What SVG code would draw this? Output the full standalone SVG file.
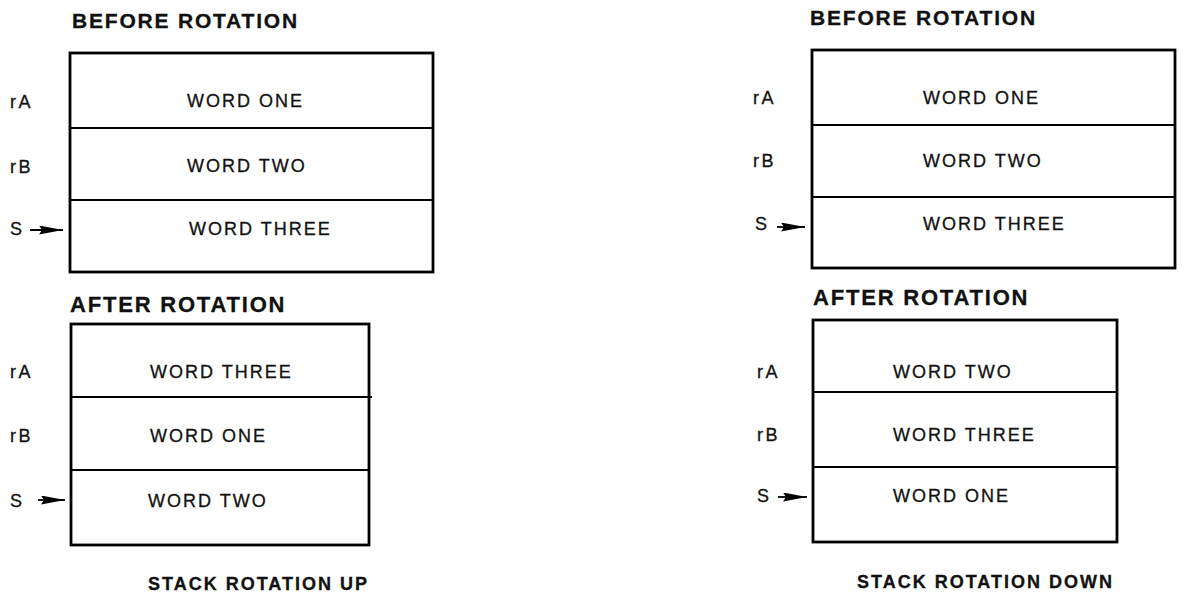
<svg xmlns="http://www.w3.org/2000/svg" width="1184" height="595" viewBox="0 0 1184 595">
<style>
.box{fill:none;stroke:#000;stroke-width:2.8}
.div{stroke:#000;stroke-width:2}
text{font-family:"Liberation Sans",Arial,sans-serif;fill:#111;stroke:#111;stroke-width:0.3}
.title{font-weight:bold;font-size:21px;letter-spacing:1.8px}
.title2{font-weight:bold;font-size:22px;letter-spacing:1.8px}
.cap{font-weight:bold;font-size:18px;letter-spacing:2px}
.word{font-size:18px;letter-spacing:2px}
.lbl{font-size:18px;letter-spacing:2.5px}
.ptr{stroke:#000;stroke-width:1.8;fill:none;marker-end:url(#head)}
</style>
<defs>
<marker id="head" markerUnits="userSpaceOnUse" markerWidth="26" markerHeight="10" refX="24" refY="4.5" orient="auto">
<path d="M0,0 L24,4.5 L0,9 L3,4.5 Z" fill="#000"/>
</marker>
</defs>

<g id="stack-up-before">
<text class="title" x="72" y="28">BEFORE ROTATION</text>
<rect class="box" x="70" y="53" width="363" height="219"/>
<line class="div" x1="70" y1="128" x2="433" y2="128"/>
<line class="div" x1="70" y1="200" x2="433" y2="200"/>
<text class="lbl" x="10" y="108">rA</text>
<text class="lbl" x="10" y="173">rB</text>
<text class="lbl" x="10" y="235">S</text>
<text class="word" x="187" y="107">WORD ONE</text>
<text class="word" x="187" y="172">WORD TWO</text>
<text class="word" x="189" y="235">WORD THREE</text>
</g>

<g id="stack-up-after">
<text class="title2" x="70" y="312">AFTER ROTATION</text>
<rect class="box" x="71" y="324" width="298" height="221"/>
<line class="div" x1="71" y1="397" x2="372" y2="397"/>
<line class="div" x1="71" y1="470" x2="369" y2="470"/>
<text class="lbl" x="10" y="378">rA</text>
<text class="lbl" x="10" y="442">rB</text>
<text class="lbl" x="10" y="507">S</text>
<text class="word" x="150" y="378">WORD THREE</text>
<text class="word" x="150" y="442">WORD ONE</text>
<text class="word" x="148" y="507">WORD TWO</text>
<text class="cap" x="148" y="590">STACK ROTATION UP</text>
</g>

<g id="stack-down-before">
<text class="title" x="810" y="25">BEFORE ROTATION</text>
<rect class="box" x="812" y="50" width="363" height="218"/>
<line class="div" x1="812" y1="125" x2="1175" y2="125"/>
<line class="div" x1="812" y1="197" x2="1175" y2="197"/>
<text class="lbl" x="753" y="104">rA</text>
<text class="lbl" x="753" y="167">rB</text>
<text class="lbl" x="755" y="230">S</text>
<text class="word" x="923" y="104">WORD ONE</text>
<text class="word" x="923" y="167">WORD TWO</text>
<text class="word" x="923" y="230">WORD THREE</text>
</g>

<g id="stack-down-after">
<text class="title2" x="813" y="305">AFTER ROTATION</text>
<rect class="box" x="813" y="320" width="304" height="222"/>
<line class="div" x1="813" y1="392" x2="1117" y2="392"/>
<line class="div" x1="813" y1="467" x2="1117" y2="467"/>
<text class="lbl" x="757" y="378">rA</text>
<text class="lbl" x="757" y="441">rB</text>
<text class="lbl" x="757" y="502">S</text>
<text class="word" x="893" y="378">WORD TWO</text>
<text class="word" x="893" y="441">WORD THREE</text>
<text class="word" x="893" y="502">WORD ONE</text>
<text class="cap" x="857" y="588">STACK ROTATION DOWN</text>
</g>

<g id="connectors">
<line class="ptr" x1="30" y1="230" x2="63" y2="230"/>
<line class="ptr" x1="38" y1="500" x2="65" y2="500"/>
<line class="ptr" x1="777" y1="227" x2="805" y2="227"/>
<line class="ptr" x1="778" y1="497" x2="807" y2="497"/>
</g>
</svg>
